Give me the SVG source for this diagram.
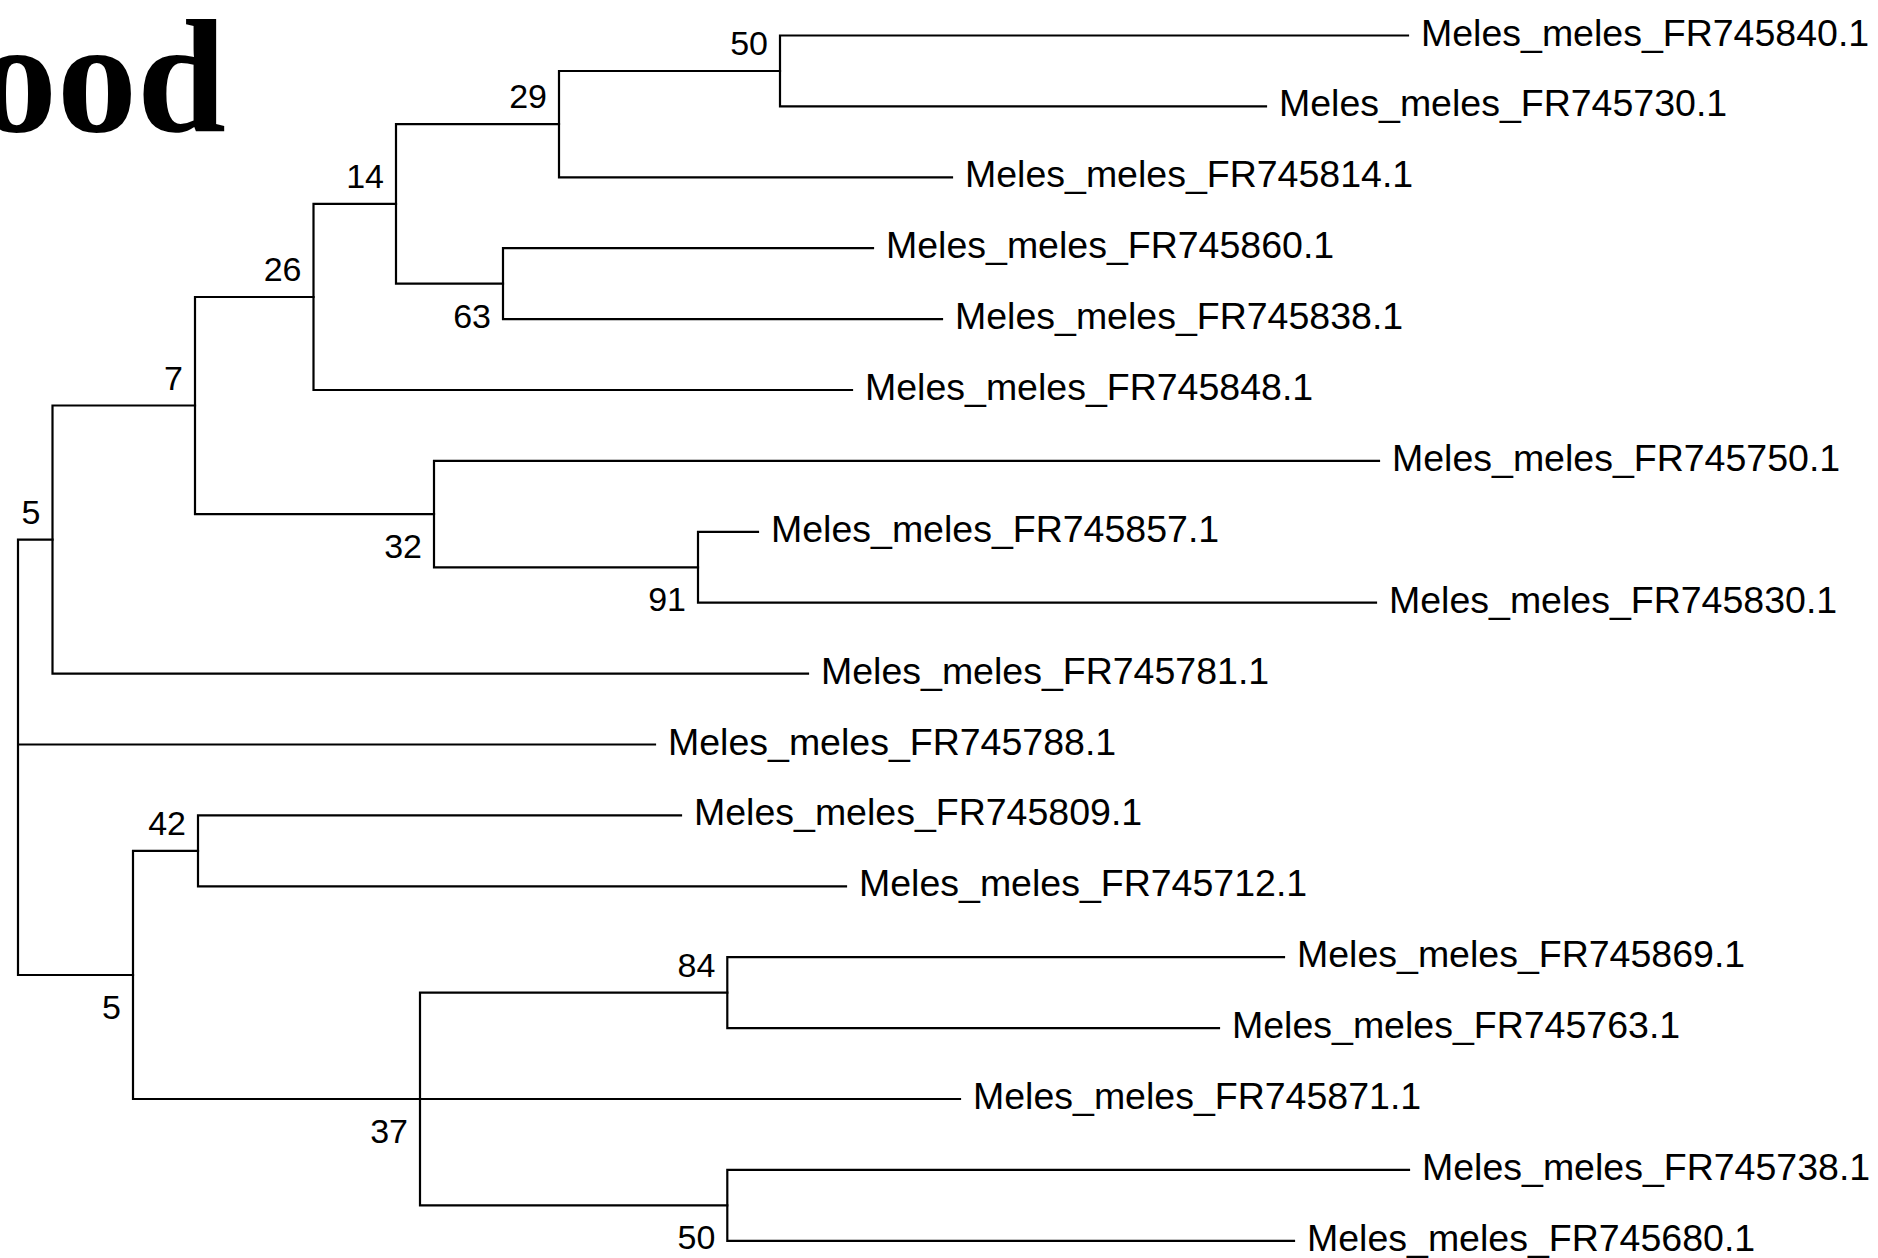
<svg xmlns="http://www.w3.org/2000/svg" width="1878" height="1258" viewBox="0 0 1878 1258">
<style>
.br{fill:none;stroke:#000;stroke-width:2.2;stroke-linecap:square}
.leaf{font-family:"Liberation Sans",Arial,sans-serif;font-size:37.5px;fill:#000}
.bs{font-family:"Liberation Sans",Arial,sans-serif;font-size:34px;fill:#000;text-anchor:end}
.title{font-family:"Liberation Serif","Times New Roman",serif;font-weight:bold;font-size:160px;fill:#000}
</style>
<rect width="1878" height="1258" fill="#fff"/>
<text class="title" x="-23" y="131">ood</text>
<g id="connectors">
<path class="br" d="M18 539.6V975M18 539.6H52.5M18 744.5H655M18 975H133"/>
<path class="br" d="M52.5 405.5V673.6M52.5 405.5H195M52.5 673.6H808"/>
<path class="br" d="M195 297V514.1M195 297H313.5M195 514.1H434"/>
<path class="br" d="M313.5 203.9V390M313.5 203.9H396M313.5 390H852"/>
<path class="br" d="M396 124.1V283.7M396 124.1H559M396 283.7H503"/>
<path class="br" d="M559 71V177.3M559 71H780M559 177.3H952"/>
<path class="br" d="M780 35.5V106.4M780 35.5H1408M780 106.4H1266"/>
<path class="br" d="M503 248.2V319.1M503 248.2H873M503 319.1H942"/>
<path class="br" d="M434 460.9V567.3M434 460.9H1379M434 567.3H698"/>
<path class="br" d="M698 531.8V602.7M698 531.8H758M698 602.7H1376"/>
<path class="br" d="M133 850.9V1099M133 850.9H198M133 1099H420"/>
<path class="br" d="M198 815.4V886.3M198 815.4H681M198 886.3H846"/>
<path class="br" d="M420 992.7V1205.4M420 992.7H727.3M420 1099H960M420 1205.4H727.3"/>
<path class="br" d="M727.3 957.2V1028.1M727.3 957.2H1284M727.3 1028.1H1219"/>
<path class="br" d="M727.3 1169.9V1240.8M727.3 1169.9H1409M727.3 1240.8H1294"/>
</g>
<g id="leaf1"><text class="leaf" x="1421" y="45.5">Meles_meles_FR745840.1</text></g>
<g id="leaf2"><text class="leaf" x="1279" y="116.4">Meles_meles_FR745730.1</text></g>
<g id="leaf3"><text class="leaf" x="965" y="187.3">Meles_meles_FR745814.1</text></g>
<g id="leaf4"><text class="leaf" x="886" y="258.2">Meles_meles_FR745860.1</text></g>
<g id="leaf5"><text class="leaf" x="955" y="329.1">Meles_meles_FR745838.1</text></g>
<g id="leaf6"><text class="leaf" x="865" y="400">Meles_meles_FR745848.1</text></g>
<g id="leaf7"><text class="leaf" x="1392" y="470.9">Meles_meles_FR745750.1</text></g>
<g id="leaf8"><text class="leaf" x="771" y="541.8">Meles_meles_FR745857.1</text></g>
<g id="leaf9"><text class="leaf" x="1389" y="612.7">Meles_meles_FR745830.1</text></g>
<g id="leaf10"><text class="leaf" x="821" y="683.6">Meles_meles_FR745781.1</text></g>
<g id="leaf11"><text class="leaf" x="668" y="754.5">Meles_meles_FR745788.1</text></g>
<g id="leaf12"><text class="leaf" x="694" y="825.4">Meles_meles_FR745809.1</text></g>
<g id="leaf13"><text class="leaf" x="859" y="896.3">Meles_meles_FR745712.1</text></g>
<g id="leaf14"><text class="leaf" x="1297" y="967.2">Meles_meles_FR745869.1</text></g>
<g id="leaf15"><text class="leaf" x="1232" y="1038.1">Meles_meles_FR745763.1</text></g>
<g id="leaf16"><text class="leaf" x="973" y="1109">Meles_meles_FR745871.1</text></g>
<g id="leaf17"><text class="leaf" x="1422" y="1179.9">Meles_meles_FR745738.1</text></g>
<g id="leaf18"><text class="leaf" x="1307" y="1250.8">Meles_meles_FR745680.1</text></g>
<g id="node50a"><text class="bs" x="768" y="55">50</text></g>
<g id="node29"><text class="bs" x="547" y="108">29</text></g>
<g id="node14"><text class="bs" x="384" y="188">14</text></g>
<g id="node26"><text class="bs" x="301.5" y="281">26</text></g>
<g id="node7"><text class="bs" x="183" y="389.5">7</text></g>
<g id="node5a"><text class="bs" x="40.5" y="523.6">5</text></g>
<g id="node63"><text class="bs" x="491" y="327.7">63</text></g>
<g id="node32"><text class="bs" x="422" y="558">32</text></g>
<g id="node91"><text class="bs" x="686" y="611.3">91</text></g>
<g id="node42"><text class="bs" x="186" y="835">42</text></g>
<g id="node84"><text class="bs" x="715.3" y="976.7">84</text></g>
<g id="node50b"><text class="bs" x="715.3" y="1249.4">50</text></g>
<g id="node37"><text class="bs" x="408" y="1143">37</text></g>
<g id="node5b"><text class="bs" x="121" y="1019">5</text></g>
</svg>
